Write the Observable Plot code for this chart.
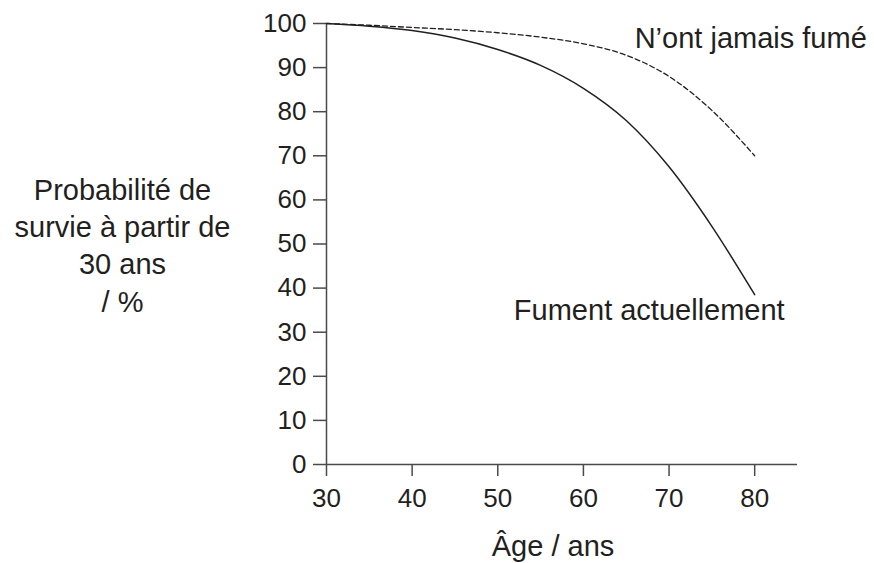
<!DOCTYPE html>
<html>
<head>
<meta charset="utf-8">
<script src="https://cdn.jsdelivr.net/npm/d3@7"></script>
<script src="https://cdn.jsdelivr.net/npm/@observablehq/plot@0.6"></script>
<style>
  html, body { margin: 0; padding: 0; background: #fff; }
  #chart svg { display: block; }
</style>
</head>
<body>
<div id="chart"></div>
<script>
// Data
const ages = [30, 35, 40, 45, 50, 55, 60, 65, 70, 75, 80];
const neverSmoked = [100, 99.6, 99.1, 98.6, 97.9, 96.9, 95.4, 92.8, 88, 80.3, 70];
const currentSmokers = [100, 99.4, 98.4, 96.7, 94.1, 90.5, 85.3, 78, 67.5, 54, 38.5];
const xTicks = [30, 40, 50, 60, 70, 80];
const yTicks = [0, 10, 20, 30, 40, 50, 60, 70, 80, 90, 100];
const seriesNames = ["N\u2019ont jamais fumé", "Fument actuellement"];
const yTitle = "Probabilité de\nsurvie à partir de\n30 ans\n/ %";
const xTitle = "Âge / ans";

const never = ages.map((a, i) => ({age: a, p: neverSmoked[i], s: seriesNames[0]}));
const smokers = ages.map((a, i) => ({age: a, p: currentSmokers[i], s: seriesNames[1]}));

const ink = "#231f20";
const axisInk = "#4a4a4a";

const chart = Plot.plot({
  width: 874,
  height: 563,
  marginLeft: 326,
  marginRight: 77,
  marginTop: 23,
  marginBottom: 99,
  style: {fontFamily: "'Liberation Sans', Arial, sans-serif", color: ink, background: "#fff"},
  x: {domain: [30, 85], label: null},
  y: {domain: [0, 100], label: null},
  marks: [
    Plot.axisX(xTicks, {label: null, tickSize: 12, tickPadding: 12, fontSize: 26, stroke: axisInk, strokeWidth: 1.5, fill: ink}),
    Plot.axisY(yTicks, {label: null, tickSize: 13, tickPadding: 7, fontSize: 26, stroke: axisInk, strokeWidth: 1.5, fill: ink}),
    Plot.ruleY([0], {stroke: axisInk, strokeWidth: 1.5}),
    Plot.ruleX([30], {stroke: axisInk, strokeWidth: 1.5}),
    Plot.line(never, {x: "age", y: "p", curve: "monotone-x", stroke: ink, strokeWidth: 1.3, strokeDasharray: "5,3"}),
    Plot.line(smokers, {x: "age", y: "p", curve: "monotone-x", stroke: ink, strokeWidth: 1.5}),
    Plot.text(never, Plot.selectLast({x: "age", y: "p", text: "s", textAnchor: "start", lineAnchor: "bottom", dx: -120, dy: -108, fontSize: 29, fill: ink})),
    Plot.text(smokers, Plot.selectLast({x: "age", y: "p", text: "s", textAnchor: "end", lineAnchor: "bottom", dx: 30, dy: 25, fontSize: 29, fill: ink})),
    Plot.text([yTitle], {frameAnchor: "left", text: d => d, textAnchor: "middle", dx: -204, dy: 0, lineHeight: 1.28, fontSize: 29, fill: ink}),
    Plot.text([xTitle], {frameAnchor: "bottom", text: d => d, textAnchor: "middle", lineAnchor: "bottom", dx: -9, dy: 91, fontSize: 29, fill: ink})
  ]
});
document.getElementById("chart").appendChild(chart);
</script>
</body>
</html>
